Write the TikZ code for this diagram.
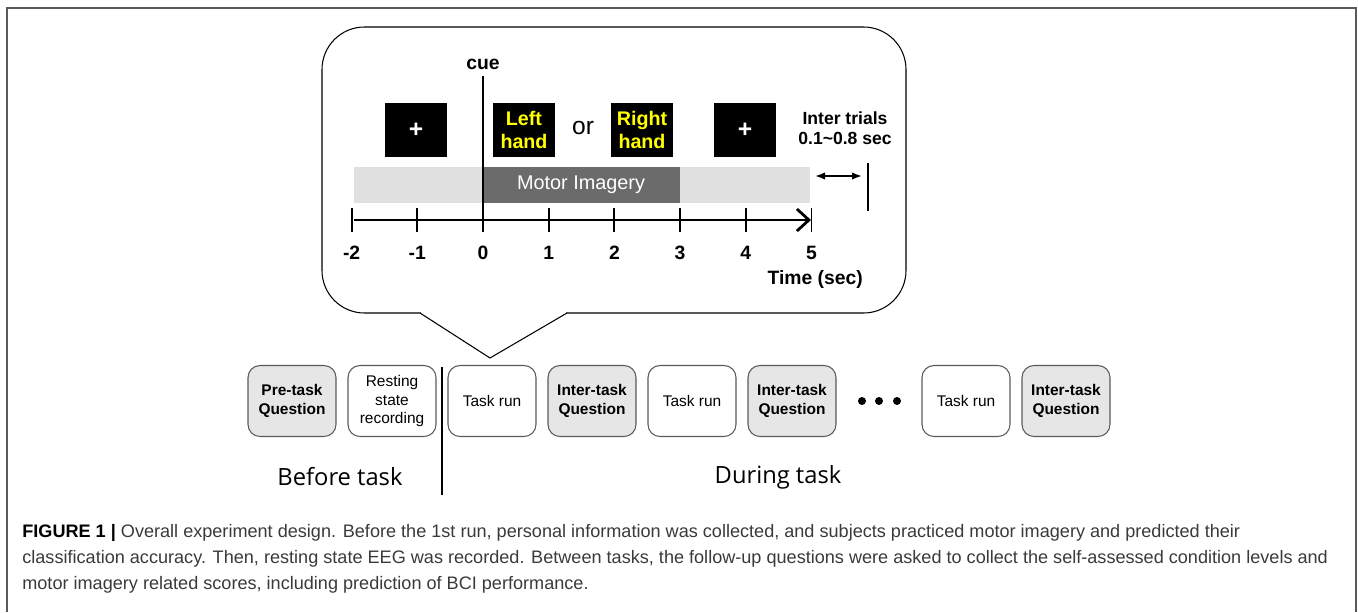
\documentclass[tikz,border=0pt]{standalone}
\usepackage{fontspec}
\setmainfont{Liberation Sans}
\newfontfamily\phasefont{Open Sans}
\usetikzlibrary{arrows.meta,positioning}
\definecolor{qgray}{HTML}{E6E6E6}
\definecolor{edgegray}{HTML}{5A5A5A}
\definecolor{barlight}{HTML}{E0E0E0}
\definecolor{bardark}{HTML}{6B6B6B}
\definecolor{cueyellow}{HTML}{FFFF00}
\definecolor{captext}{HTML}{3A3A3A}

\begin{document}
\begin{tikzpicture}
  [
    x=0.02cm, y=-0.02cm,
    Stage/.style={rectangle, rounded corners=0.24cm, draw=edgegray, line width=0.6pt, minimum width=1.76cm, minimum height=1.42cm, align=center, inner sep=0pt, font=\fontsize{8.8}{10.4}\selectfont},
    Run/.style={Stage, fill=white},
    Quest/.style={Stage, fill=qgray, font=\fontsize{8.8}{10.4}\selectfont\bfseries},
    Screen/.style={rectangle, fill=black, minimum width=1.24cm, minimum height=1.1cm, align=center, inner sep=0pt},
    Cross/.style={Screen, text=white, font=\bfseries\fontsize{14}{14}\selectfont},
    Hand/.style={Screen, text=cueyellow, font=\bfseries\fontsize{11.2}{12.8}\selectfont},
    Tick/.style={line width=1.1pt},
    CapLine/.style={anchor=west, inner sep=0pt, text=captext, font=\fontsize{10.3}{12}\selectfont}
  ]
  \useasboundingbox (0,0) rectangle (1358,612);
  % Frame
  \draw[edgegray, line width=0.8pt] (7,612) -- (7,8) -- (1356,8) -- (1356,612);
  % Callout
  \draw[line width=0.6pt, rounded corners=0.85cm] (322,27) rectangle (906,313);
  \fill[white] (421,310) rectangle (566,316);
  \coordinate (pl) at (420,313);
  \coordinate (tip) at (490,358);
  \coordinate (pr) at (567,313);
  \draw[line width=0.6pt] (pl) -- (tip) -- (pr);
  % Trial screens
  \node[Cross] (fix1) at (416,130) {+};
  \node[Hand] (left) at (524,130) {Left\\hand};
  \node[font=\fontsize{14}{14}\selectfont] (or) at (583,128) {or};
  \node[Hand] (right) at (642,130) {Right\\hand};
  \node[Cross] (fix2) at (745,130) {+};
  \node[font=\bfseries\fontsize{10}{11.5}\selectfont, align=center] (inter) at (845,128) {Inter trials\\0.1\textasciitilde0.8 sec};
  % Bar
  \fill[barlight] (354,167) rectangle (810,203);
  \fill[bardark] (483,167) rectangle (680,203);
  \node[text=white, font=\fontsize{11.3}{13}\selectfont] (mi) at (581,185) {Motor Imagery};
  % Cue
  \node[font=\bfseries\fontsize{11}{13}\selectfont] (cue) at (483,64) {cue};
  \coordinate (cuebot) at (483,232);
  \draw[line width=1pt] (cue.south) -- (cuebot);
  % Time axis
  \coordinate (ax0) at (354,220);
  \coordinate (ax1) at (811,220);
  \draw[line width=1.6pt, -{Straight Barb[length=2.4mm, width=4.4mm]}] (ax0) -- (ax1);
  \foreach \t in {-2,...,5}{
    \draw[Tick] (483+65.7*\t, 208) -- (483+65.7*\t, 232);
    \node[font=\bfseries\fontsize{11}{12}\selectfont] (lab\t) at (483+65.7*\t, 253) {\t};
  }
  \node[anchor=east, font=\bfseries\fontsize{11}{13}\selectfont] (time) at (869,279) {Time (sec)};
  \coordinate (ia) at (815,176);
  \coordinate (ib) at (862,176);
  \draw[line width=1pt, {Latex[length=2mm]}-{Latex[length=2mm]}] (ia) -- (ib);
  \coordinate (it0) at (868,163);
  \coordinate (it1) at (868,211);
  \draw[line width=1pt] (it0) -- (it1);
  % Sessions
  \node[Quest] (pre) at (292,401) {Pre-task\\Question};
  \node[Run] (rest) at (392,401) {Resting\\state\\recording};
  \node[Run] (run1) at (492,401) {Task run};
  \node[Quest] (q1) at (592,401) {Inter-task\\Question};
  \node[Run] (run2) at (692,401) {Task run};
  \node[Quest] (q2) at (792,401) {Inter-task\\Question};
  \foreach \d in {862,879,897}
    \fill (\d,401) circle (0.08cm);
  \node[Run] (run3) at (966,401) {Task run};
  \node[Quest] (q3) at (1066,401) {Inter-task\\Question};
  \coordinate (div0) at (442,367);
  \coordinate (div1) at (442,495);
  \draw[line width=1.2pt] (div0) -- (div1);
  \node[font=\phasefont\fontsize{13.5}{16}\selectfont] (before) at (340,477) {Before task};
  \node[font=\phasefont\fontsize{13.5}{16}\selectfont] (during) at (778,477) {During task};
  % Caption
  \node[CapLine] (cap1) at (22,533) {\textbf{\color{black}FIGURE 1 |} Overall experiment design. Before the 1st run, personal information was collected, and subjects practiced motor imagery and predicted their};
  \node[CapLine] (cap2) at (22,559) {classification accuracy. Then, resting state EEG was recorded. Between tasks, the follow-up questions were asked to collect the self-assessed condition levels and};
  \node[CapLine] (cap3) at (22,585) {motor imagery related scores, including prediction of BCI performance.};
\end{tikzpicture}
\end{document}
